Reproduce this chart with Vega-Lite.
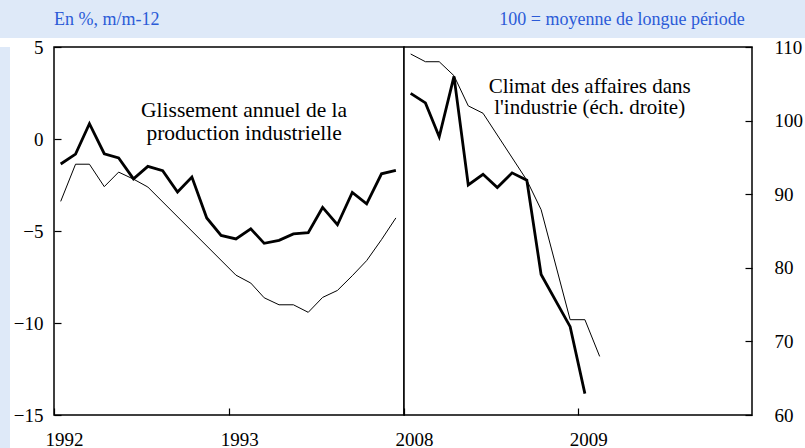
{
  "$schema": "https://vega.github.io/schema/vega-lite/v6.json",
  "background": "white",
  "padding": 0,
  "config": {
    "font": "Liberation Serif",
    "view": {"stroke": null},
    "axis": {"labelFont": "Liberation Serif", "labelColor": "black", "tickColor": "black", "grid": false, "domain": false, "title": null, "labelFontSize": 19, "tickSize": -7, "tickWidth": 1.2}
  },
  "datasets": {
    "left": [
      {"date": "1992-01-15", "s": "prod", "v": -1.36},
      {"date": "1992-02-15", "s": "prod", "v": -0.82},
      {"date": "1992-03-15", "s": "prod", "v": 0.83},
      {"date": "1992-04-15", "s": "prod", "v": -0.80},
      {"date": "1992-05-15", "s": "prod", "v": -1.03},
      {"date": "1992-06-15", "s": "prod", "v": -2.17},
      {"date": "1992-07-15", "s": "prod", "v": -1.49},
      {"date": "1992-08-15", "s": "prod", "v": -1.72},
      {"date": "1992-09-15", "s": "prod", "v": -2.88},
      {"date": "1992-10-15", "s": "prod", "v": -2.07},
      {"date": "1992-11-15", "s": "prod", "v": -4.29},
      {"date": "1992-12-15", "s": "prod", "v": -5.24},
      {"date": "1993-01-15", "s": "prod", "v": -5.43},
      {"date": "1993-02-15", "s": "prod", "v": -4.88},
      {"date": "1993-03-15", "s": "prod", "v": -5.67},
      {"date": "1993-04-15", "s": "prod", "v": -5.51},
      {"date": "1993-05-15", "s": "prod", "v": -5.16},
      {"date": "1993-06-15", "s": "prod", "v": -5.09},
      {"date": "1993-07-15", "s": "prod", "v": -3.72},
      {"date": "1993-08-15", "s": "prod", "v": -4.66},
      {"date": "1993-09-15", "s": "prod", "v": -2.90},
      {"date": "1993-10-15", "s": "prod", "v": -3.52},
      {"date": "1993-11-15", "s": "prod", "v": -1.89},
      {"date": "1993-12-15", "s": "prod", "v": -1.71},
      {"date": "1992-01-15", "s": "clim", "v": -3.39},
      {"date": "1992-02-15", "s": "clim", "v": -1.37},
      {"date": "1992-03-15", "s": "clim", "v": -1.37},
      {"date": "1992-04-15", "s": "clim", "v": -2.59},
      {"date": "1992-05-15", "s": "clim", "v": -1.80},
      {"date": "1992-06-15", "s": "clim", "v": -2.18},
      {"date": "1992-07-15", "s": "clim", "v": -2.61},
      {"date": "1993-01-15", "s": "clim", "v": -7.40},
      {"date": "1993-02-15", "s": "clim", "v": -7.83},
      {"date": "1993-03-15", "s": "clim", "v": -8.63},
      {"date": "1993-04-15", "s": "clim", "v": -9.01},
      {"date": "1993-05-15", "s": "clim", "v": -9.01},
      {"date": "1993-06-15", "s": "clim", "v": -9.42},
      {"date": "1993-07-15", "s": "clim", "v": -8.61},
      {"date": "1993-08-15", "s": "clim", "v": -8.23},
      {"date": "1993-09-15", "s": "clim", "v": -7.43},
      {"date": "1993-10-15", "s": "clim", "v": -6.61},
      {"date": "1993-11-15", "s": "clim", "v": -5.47},
      {"date": "1993-12-15", "s": "clim", "v": -4.29}
    ],
    "right": [
      {"date": "2008-01-15", "s": "prod", "v": 103.7},
      {"date": "2008-02-15", "s": "prod", "v": 102.4},
      {"date": "2008-03-15", "s": "prod", "v": 97.8},
      {"date": "2008-04-15", "s": "prod", "v": 106.0},
      {"date": "2008-05-15", "s": "prod", "v": 91.25},
      {"date": "2008-06-15", "s": "prod", "v": 92.7},
      {"date": "2008-07-15", "s": "prod", "v": 90.9},
      {"date": "2008-08-15", "s": "prod", "v": 92.9},
      {"date": "2008-09-15", "s": "prod", "v": 91.9},
      {"date": "2008-10-15", "s": "prod", "v": 79.1},
      {"date": "2008-12-15", "s": "prod", "v": 72.0},
      {"date": "2009-01-15", "s": "prod", "v": 62.9},
      {"date": "2008-01-15", "s": "clim", "v": 109.05},
      {"date": "2008-02-15", "s": "clim", "v": 108.0},
      {"date": "2008-03-15", "s": "clim", "v": 108.0},
      {"date": "2008-04-15", "s": "clim", "v": 106.1},
      {"date": "2008-05-15", "s": "clim", "v": 102.0},
      {"date": "2008-06-15", "s": "clim", "v": 101.0},
      {"date": "2008-09-15", "s": "clim", "v": 91.9},
      {"date": "2008-10-15", "s": "clim", "v": 87.9},
      {"date": "2008-12-15", "s": "clim", "v": 72.95},
      {"date": "2009-01-15", "s": "clim", "v": 72.95},
      {"date": "2009-02-15", "s": "clim", "v": 67.96}
    ],
    "leftText": [
      {"date": "1993-02-01", "v": 1.21, "t": "Glissement annuel de la"},
      {"date": "1993-02-01", "v": -0.04, "t": "production industrielle"}
    ],
    "rightText": [
      {"date": "2009-01-25", "v": 103.79, "t": "Climat des affaires dans"},
      {"date": "2009-01-25", "v": 100.94, "t": "l'industrie (éch. droite)"}
    ],
    "leftHead": [
      {"date": "1992-01-01", "v": 6.21, "t": "En %, m/m-12"}
    ],
    "rightHead": [
      {"date": "2009-12-17", "v": 113.03, "t": "100 = moyenne de longue période"}
    ]
  },
  "bounds": "flush",
  "spacing": 9,
  "vconcat": [
    {
      "width": 805,
      "height": 38,
      "view": {"fill": "#dee9f8", "stroke": null},
      "data": {"values": []},
      "mark": "rect"
    },
    {
      "bounds": "flush",
      "spacing": 44,
      "hconcat": [
        {
          "width": 10,
          "height": 401,
          "view": {"fill": "#dee9f8", "stroke": null},
          "data": {"values": []},
          "mark": "rect"
        },
        {
          "bounds": "flush",
          "spacing": 0,
          "hconcat": [
            {
              "width": 350,
              "height": 368,
              "view": {"fill": "white", "stroke": "black", "strokeWidth": 1.5},
              "encoding": {
                "x": {"field": "date", "type": "temporal",
                  "scale": {"type": "utc", "domain": [{"year": 1992, "month": 1, "date": 1, "utc": true}, {"year": 1994, "month": 1, "date": 1, "utc": true}]},
                  "axis": {"values": [{"year": 1992, "month": 1, "date": 1, "utc": true}, {"year": 1993, "month": 1, "date": 1, "utc": true}], "format": "%Y", "formatType": "utc", "labelFlush": false, "labelPadding": 22, "labelOffset": 10}},
                "y": {"field": "v", "type": "quantitative",
                  "scale": {"domain": [-15, 5], "nice": false, "zero": false},
                  "axis": {"values": [-15, -10, -5, 0, 5], "labelPadding": 18}}
              },
              "layer": [
                {
                  "data": {"name": "left"},
                  "mark": {"type": "line", "color": "black", "strokeJoin": "miter"},
                  "encoding": {
                    "strokeWidth": {"field": "s", "type": "nominal", "scale": {"domain": ["prod", "clim"], "range": [2.8, 1]}, "legend": null},
                    "detail": {"field": "s"}
                  }
                },
                {
                  "data": {"name": "leftText"},
                  "mark": {"type": "text", "fontSize": 21.5, "align": "center", "baseline": "alphabetic", "color": "black"},
                  "encoding": {"text": {"field": "t"}}
                },
                {
                  "data": {"name": "leftHead"},
                  "mark": {"type": "text", "fontSize": 18, "align": "left", "baseline": "alphabetic", "color": "#2b5bd7"},
                  "encoding": {"text": {"field": "t"}}
                }
              ]
            },
            {
              "width": 348,
              "height": 368,
              "view": {"fill": "white", "stroke": "black", "strokeWidth": 1.5},
              "encoding": {
                "x": {"field": "date", "type": "temporal",
                  "scale": {"type": "utc", "domain": [{"year": 2008, "month": 1, "date": 1, "utc": true}, {"year": 2010, "month": 1, "date": 1, "utc": true}]},
                  "axis": {"values": [{"year": 2008, "month": 1, "date": 1, "utc": true}, {"year": 2009, "month": 1, "date": 1, "utc": true}], "format": "%Y", "formatType": "utc", "labelFlush": false, "labelPadding": 22, "labelOffset": 10}},
                "y": {"field": "v", "type": "quantitative",
                  "scale": {"domain": [60, 110], "nice": false, "zero": false},
                  "axis": {"orient": "right", "values": [60, 70, 80, 90, 100, 110], "labelPadding": 29}}
              },
              "layer": [
                {
                  "data": {"name": "right"},
                  "mark": {"type": "line", "color": "black", "strokeJoin": "miter"},
                  "encoding": {
                    "strokeWidth": {"field": "s", "type": "nominal", "scale": {"domain": ["prod", "clim"], "range": [2.8, 1]}, "legend": null},
                    "detail": {"field": "s"}
                  }
                },
                {
                  "data": {"name": "rightText"},
                  "mark": {"type": "text", "fontSize": 21, "align": "center", "baseline": "alphabetic", "color": "black"},
                  "encoding": {"text": {"field": "t"}}
                },
                {
                  "data": {"name": "rightHead"},
                  "mark": {"type": "text", "fontSize": 18, "align": "right", "baseline": "alphabetic", "color": "#2b5bd7"},
                  "encoding": {"text": {"field": "t"}}
                }
              ]
            }
          ]
        }
      ]
    }
  ]
}
